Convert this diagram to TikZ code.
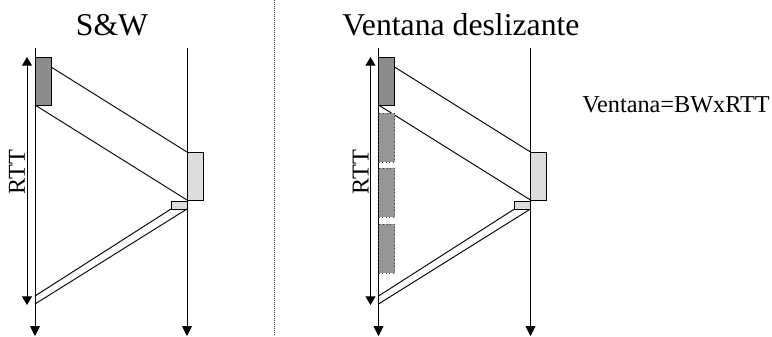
\documentclass[tikz,border=0pt]{standalone}
\usepackage{fontspec}
\setmainfont{Liberation Serif}
\usetikzlibrary{arrows.meta,calc}
\definecolor{darkbox}{RGB}{140,140,140}
\definecolor{winbox}{RGB}{150,150,150}
\definecolor{lightbox}{RGB}{220,220,220}
\begin{document}
\begin{tikzpicture}[x=0.75pt,y=-0.75pt,
  wire/.style={line width=0.7pt},
  timeline/.style={line width=0.7pt,-{Triangle[length=7.5pt,width=7.5pt]}},
  rttarrow/.style={line width=0.7pt,{Triangle[length=6.5pt,width=7.5pt]}-{Triangle[length=6.5pt,width=7.5pt]}},
  boxbase/.style={rectangle,inner sep=0pt,outer sep=0pt,anchor=north west,line width=0.7pt},
  databox/.style={boxbase,draw=black,fill=darkbox,minimum width=12pt,minimum height=36pt},
  winframe/.style={boxbase,draw=black!75,fill=winbox,dotted,minimum width=12pt,minimum height=36.75pt},
  rcvbox/.style={boxbase,draw=black,fill=lightbox,minimum width=12pt,minimum height=36pt},
  ackbox/.style={boxbase,draw=black,fill=lightbox,minimum width=12pt,minimum height=6pt},
  title/.style={font=\fontsize{23.8}{28}\selectfont,anchor=base,inner sep=0pt},
  lbl/.style={font=\fontsize{18.2}{21}\selectfont,inner sep=0pt},
  sep/.style={line width=0.6pt,dash pattern=on 0.75pt off 0.75pt,black!80}
]
\useasboundingbox (0,0) rectangle (772,336);

% titles and labels
\node[title] (t1) at (112,35) {S\&W};
\node[title] (t2) at (461,35) {Ventana deslizante};
\node[lbl,anchor=base west] (win) at (582,112) {Ventana=BWxRTT};

% separator
\coordinate (sepT) at (274,0);
\coordinate (sepB) at (274,336);
\draw[sep] (sepT) -- (sepB);

\foreach \o/\p in {0/L,343.5/R}{
  \begin{scope}[xshift=\o*0.75pt]
    % time lines
    \coordinate (\p-sT) at (35,48);
    \coordinate (\p-sB) at (35,336);
    \coordinate (\p-rT) at (187,48);
    \coordinate (\p-rB) at (187,336);
    % RTT arrow
    \coordinate (\p-rttT) at (27,57);
    \coordinate (\p-rttB) at (27,305);
    \node[lbl,anchor=base,rotate=90] (\p-rtt) at (25,172) {RTT};
    % boxes
    \node[databox] (\p-data) at (35,57) {};
    \node[rcvbox] (\p-rcv) at (187,152) {};
    \node[ackbox] (\p-ack) at (171,201) {};
    % ack arrival points
    \coordinate (\p-a1) at (35,296);
    \coordinate (\p-a2) at (35,304);
    \draw[timeline] (\p-sT) -- (\p-sB);
    \draw[timeline] (\p-rT) -- (\p-rB);
    \draw[rttarrow] (\p-rttT) -- (\p-rttB);
    \draw[wire] ($(\p-data.north east)+(0,10)$) -- (\p-rcv.north west);
    \draw[wire] (\p-data.south west) -- (\p-rcv.south west);
    \draw[wire] (\p-ack.south west) -- (\p-a1);
    \draw[wire] (\p-ack.south east) -- (\p-a2);
  \end{scope}
}
% window frames (sliding window only)
\begin{scope}[xshift=343.5*0.75pt]
  \node[winframe] (w1) at (35,113) {};
  \node[winframe] (w2) at (35,168) {};
  \node[winframe] (w3) at (35,224) {};
\end{scope}
\end{tikzpicture}
\end{document}
